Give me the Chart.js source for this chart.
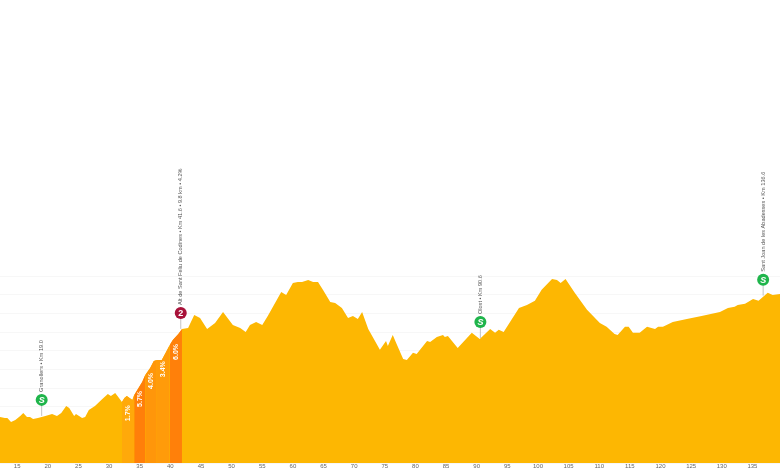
<!DOCTYPE html>
<html>
<head>
<meta charset="utf-8">
<style>html,body{margin:0;padding:0;background:#fff}canvas{display:block}</style>
<script src="https://cdn.jsdelivr.net/npm/chart.js@4"></script>
</head>
<body>
<canvas id="c" width="780" height="470"></canvas>
<script>
const kms = [12.2,13.0,13.4,14.0,14.7,15.5,16.0,16.6,17.1,17.6,18.4,19.6,20.7,21.5,22.2,23.0,23.5,24.3,24.6,25.6,26.1,26.7,27.7,28.9,29.8,30.3,31.0,31.5,32.1,32.5,32.9,33.8,34.1,35.4,35.9,36.7,37.3,37.8,38.6,39.3,39.9,40.4,41.3,41.9,42.9,43.9,44.85,46.0,47.3,48.6,50.2,51.4,52.3,53.0,54.0,55.0,55.9,58.1,58.9,60.0,60.8,61.5,62.5,63.3,64.1,64.9,66.1,66.9,68.0,69.0,69.8,70.6,71.3,72.3,74.2,75.2,75.5,76.3,77.0,78.0,78.6,79.6,80.2,81.9,82.4,83.5,84.5,84.8,85.3,86.9,89.2,90.5,92.2,93.0,93.6,94.4,96.9,98.2,99.5,100.6,102.3,103.1,103.7,104.5,106.0,108.0,110.1,111.2,112.5,113.0,114.2,114.8,115.5,116.6,117.8,119.1,119.6,120.4,122.0,124.3,126.7,129.7,131.0,132.1,132.6,133.8,135.1,136.0,137.5,138.3,139.5];
const elevations = [246,241,241,219,230,251,268,246,246,235,241,251,262,251,268,305,294,251,262,241,246,284,305,342,369,358,375,353,326,348,358,337,364,433,471,508,546,551,551,594,631,658,690,717,722,792,776,717,749,808,738,722,701,738,754,738,786,915,899,963,968,968,979,968,968,926,861,856,829,776,786,770,808,717,605,653,626,685,631,556,551,589,583,653,647,674,685,674,679,615,696,663,717,696,712,701,829,845,867,926,984,979,963,984,910,819,749,728,690,685,728,728,696,696,728,717,728,728,754,770,786,808,829,835,845,851,877,867,910,899,904];
const climbBounds = [32.1,34.1,35.9,37.8,39.9,41.9];
const climbGrades = ["1.7%","5.7%","4.0%","3.4%","6.0%"];
const climbColors = ["#FFA90A","#FF7F0A","#FF960A","#FF9B0A","#FF800A"];
const markerKms = [19.0,41.7,90.6,136.75];
const markerElevs = [252,717,668,895];
const markerLabels = ["Granollers • Km 19.0","Alt de Sant Feliu de Codines • Km 41.6 • 9.8 km • 4.2%","Olost • Km 90.6","Sant Joan de les Abadesses • Km 136.6"];
const markerGlyphs = ["S","2","S","S"];
const markerColors = ["#1FB54B","#A8123A","#1FB54B","#1FB54B"];

const pts = (a,b)=>kms.map((k,i)=>({x:k,y:elevations[i]})).filter(p=>p.x>=a&&p.x<=b);
const area = (data,color,order)=>({data,order,backgroundColor:color,borderWidth:0,pointRadius:0,fill:'start',tension:0});
const datasets = [area(pts(-1,999),'#FDB702',10)];
climbGrades.forEach((g,i)=>datasets.push(area(pts(climbBounds[i],climbBounds[i+1]),climbColors[i],1)));

const overlay = {
  id:'overlay',
  afterDatasetsDraw(chart){
    const {ctx,scales:{x,y}} = chart;
    ctx.save();
    ctx.textBaseline='middle';
    climbGrades.forEach((g,i)=>{
      const mid=(climbBounds[i]+climbBounds[i+1])/2;
      const seg=pts(climbBounds[i],climbBounds[i+1]);
      const top=seg.reduce((s,p)=>s+p.y,0)/seg.length;
      ctx.save();
      ctx.translate(x.getPixelForValue(mid),y.getPixelForValue(top)+15);
      ctx.rotate(-Math.PI/2);
      ctx.fillStyle='#fff';ctx.textAlign='center';
      ctx.font='bold 7px "Liberation Sans"';
      ctx.fillText(g,0,0);
      ctx.restore();
    });
    markerKms.forEach((k,i)=>{
      const px=x.getPixelForValue(k),py=y.getPixelForValue(markerElevs[i]);
      const cy=py-16;
      ctx.strokeStyle='#aaa';ctx.lineWidth=0.7;
      ctx.beginPath();ctx.moveTo(px,cy);ctx.lineTo(px,py);ctx.stroke();
      ctx.fillStyle=markerColors[i];
      ctx.beginPath();ctx.arc(px,cy,6,0,Math.PI*2);ctx.fill();
      ctx.fillStyle='#fff';ctx.textAlign='center';
      ctx.font=(markerGlyphs[i]==='S'?'bold italic':'bold')+' 9px "Liberation Sans"';
      ctx.fillText(markerGlyphs[i],px,cy+0.5);
      ctx.save();
      ctx.translate(px,cy-8);
      ctx.rotate(-Math.PI/2);
      ctx.fillStyle='#555';ctx.textAlign='left';
      ctx.font='5.6px "Liberation Sans"';
      ctx.fillText(markerLabels[i],0,0);
      ctx.restore();
    });
    ctx.restore();
  }
};

new Chart(document.getElementById('c'),{
  type:'line',
  data:{datasets},
  plugins:[overlay],
  options:{
    responsive:false,animation:false,
    layout:{padding:{top:276,left:0,right:0,bottom:0}},
    plugins:{legend:{display:false},tooltip:{enabled:false}},
    scales:{
      x:{type:'linear',min:12.2,max:139.5,
        grid:{display:false,drawTicks:false},border:{display:false},
        afterFit(s){s.height=7;},
        ticks:{stepSize:5,includeBounds:false,maxRotation:0,autoSkip:false,padding:0,color:'#666',font:{size:6,family:'Liberation Sans'},callback:v=>String(v)}},
      y:{min:0,max:1000,
        border:{display:false},
        grid:{color:'#f7f7f7',lineWidth:1,drawTicks:false},
        afterFit(s){s.width=0;},
        ticks:{stepSize:100,display:false}}
    }
  }
});
</script>
</body>
</html>
